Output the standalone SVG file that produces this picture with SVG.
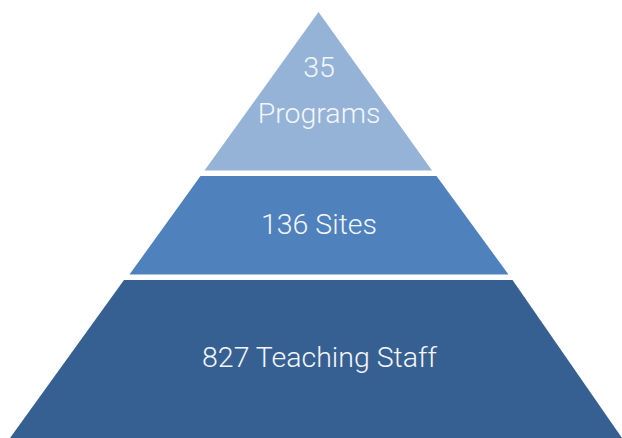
<svg xmlns="http://www.w3.org/2000/svg" width="622" height="438" viewBox="0 0 622 438">
<style>
text{font-family:Roboto,"Liberation Sans",sans-serif;font-size:28.5px;font-weight:300;fill:#f4f6fa;text-anchor:middle}
</style>
<rect width="622" height="438" fill="#ffffff"/>
<g id="level-top">
<polygon points="318.5,12 432,170.5 204.5,170.5" fill="#95b3d7"/>
<text x="319" y="77">35</text>
<text x="319" y="123">Programs</text>
</g>
<g id="level-middle">
<polygon points="200.5,176 436.5,176 508.5,274.5 129.5,274.5" fill="#4f81bd"/>
<text x="319" y="234">136 Sites</text>
</g>
<g id="level-bottom">
<polygon points="124,280 512.5,280 622,438 10,438" fill="#376092"/>
<text x="319.5" y="367">827 Teaching Staff</text>
</g>
<g id="connectors"/>
</svg>
